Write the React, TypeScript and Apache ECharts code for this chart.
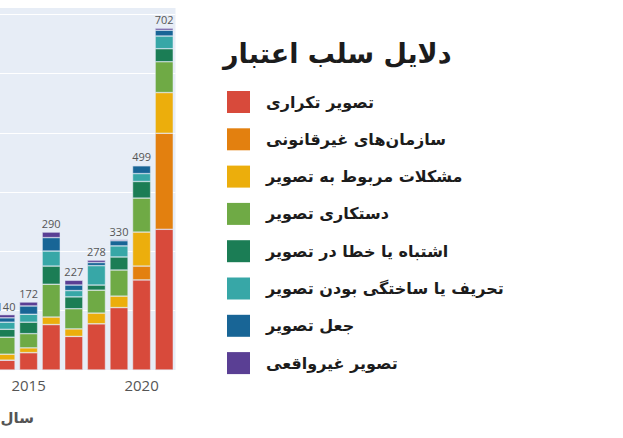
import React, { useEffect, useRef } from "react";
import * as echarts from "echarts";

const years = ["2014", "2015", "2016", "2017", "2018", "2019", "2020", "2021"];
const totals = [140, 172, 290, 227, 278, 330, 499, 702];

const seriesNames = [
  "تصویر تکراری",
  "سازمان‌های غیرقانونی",
  "مشکلات مربوط به تصویر",
  "دستکاری تصویر",
  "اشتباه یا خطا در تصویر",
  "تحریف یا ساختگی بودن تصویر",
  "جعل تصویر",
  "تصویر غیرواقعی",
];

const duplicateImage = [25, 44, 115, 85, 117, 158, 228, 356];
const illegalOrgs = [0, 0, 0, 0, 0, 0, 35, 243];
const imageIssues = [15, 12, 19, 19, 27, 29, 86, 103];
const manipulation = [43, 36, 83, 51, 58, 66, 86, 78];
const mistake = [20, 29, 46, 30, 13, 33, 42, 33];
const fabrication = [18, 20, 38, 16, 49, 28, 20, 32];
const forgery = [11, 21, 34, 14, 8, 13, 20, 15];
const unrealImage = [8, 10, 14, 12, 6, 3, 0, 5];

const seriesData = [
  duplicateImage,
  illegalOrgs,
  imageIssues,
  manipulation,
  mistake,
  fabrication,
  forgery,
  unrealImage,
];

const colors = [
  "#d84a3b",
  "#e3800f",
  "#ecae0c",
  "#6faa45",
  "#1b7d55",
  "#37a7a7",
  "#186596",
  "#5a3f94",
];

const titleText = "دلایل سلب اعتبار";
const xAxisTitle = "سال";

const OFF = 100;

export default function App() {
  const ref = useRef<HTMLDivElement>(null);

  useEffect(() => {
    if (!ref.current) return;
    const chart = echarts.init(ref.current, undefined, { renderer: "svg" });
    const last = seriesNames.length - 1;
    chart.setOption({
      animation: false,
      backgroundColor: "#ffffff",
      color: colors,
      title: {
        text: titleText,
        left: 223 + OFF,
        top: 40,
        padding: 0,
        textStyle: {
          fontFamily: "DejaVu Sans",
          fontSize: 27,
          fontWeight: "bold",
          color: "#1c1c1c",
        },
      },
      legend: {
        orient: "vertical",
        left: 227 + OFF,
        top: 91,
        padding: 0,
        icon: "rect",
        itemWidth: 23,
        itemHeight: 22,
        itemGap: 15.3,
        itemStyle: { borderWidth: 0 },
        data: seriesNames,
        textStyle: {
          fontFamily: "DejaVu Sans",
          fontSize: 16,
          fontWeight: "bold",
          color: "#1c1c1c",
          padding: [0, 0, 0, 11],
        },
      },
      grid: {
        left: -5.3 + OFF,
        top: 8,
        width: 180.8,
        height: 362,
        show: true,
        backgroundColor: "#e7edf6",
        borderWidth: 0,
      },
      xAxis: {
        type: "category",
        data: years,
        axisLine: { show: false },
        axisTick: { show: false },
        axisLabel: {
          interval: (_i: number, v: string) => v === "2015" || v === "2020",
          margin: 7,
          color: "#555555",
          fontSize: 15,
          fontFamily: "Open Sans",
        },
        splitLine: { show: false },
      },
      yAxis: {
        type: "value",
        min: 0,
        max: 916,
        interval: 150,
        axisLine: { show: false },
        axisTick: { show: false },
        axisLabel: { show: false },
        splitLine: {
          show: true,
          showMaxLine: false,
          lineStyle: { color: "#ffffff", width: 1 },
        },
      },
      graphic: [
        {
          type: "text",
          x: 34 + OFF,
          y: 418,
          style: {
            text: xAxisTitle,
            fontFamily: "DejaVu Sans",
            fontSize: 15,
            fontWeight: "bold",
            fill: "#555555",
            align: "right",
            verticalAlign: "middle",
          },
        },
      ],
      series: seriesNames.map((name, i) => ({
        name,
        type: "bar",
        stack: "total",
        barCategoryGap: "20%",
        data: seriesData[i],
        itemStyle: { color: colors[i], borderColor: "#e5ecf6", borderWidth: 0.5 },
        label:
          i === last
            ? {
                show: true,
                position: "top",
                distance: 3,
                color: "#555555",
                fontSize: 11,
                fontFamily: "Open Sans",
                formatter: (p: any) => String(totals[p.dataIndex]),
              }
            : { show: false },
      })),
    });
    return () => chart.dispose();
  }, []);

  return (
    <div
      ref={ref}
      style={{
        position: "fixed",
        left: -OFF,
        top: 0,
        width: 623 + OFF,
        height: 438,
      }}
    />
  );
}
